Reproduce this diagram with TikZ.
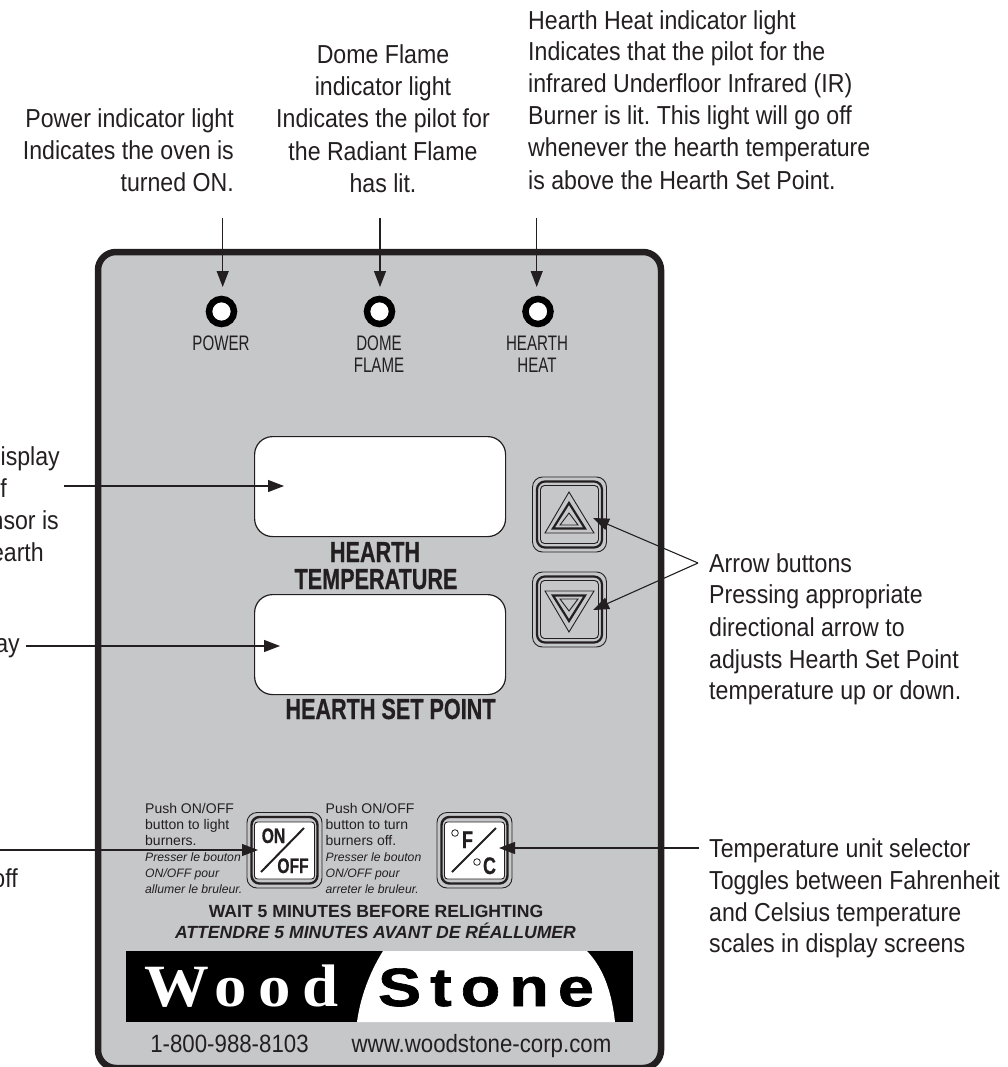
\documentclass[tikz,border=0pt]{standalone}
\usepackage{fontspec}
\setmainfont{Liberation Sans}
\newfontfamily\condf[FakeStretch=0.89]{Liberation Sans}
\newfontfamily\narrowf[FakeStretch=0.72]{Liberation Sans}
\newfontfamily\headf[FakeStretch=0.745,FakeBold=0.6]{Liberation Sans Bold}
\newfontfamily\logoserif[FakeStretch=1.08]{Liberation Serif Bold}
\newfontfamily\logosans[FakeStretch=1.2,FakeBold=1.2]{Liberation Sans Bold}
\usetikzlibrary{arrows.meta}
\definecolor{panel}{HTML}{C6C7C9}
\definecolor{ink}{HTML}{231F20}
\frenchspacing
\tikzset{
  captxt/.style={anchor=base west,inner sep=0,font=\condf\fontsize{26}{26}\selectfont,text=ink},
  capr/.style={captxt,anchor=base east},
  capc/.style={captxt,anchor=base},
  lab/.style={anchor=base,inner sep=0,font=\narrowf\fontsize{21}{21}\selectfont,text=ink},
  head/.style={anchor=base,inner sep=0,font=\headf\fontsize{29}{29}\selectfont,text=ink},
  tinyt/.style={anchor=base west,inner sep=0,font=\fontsize{14}{14}\selectfont,text=ink},
  tinyi/.style={anchor=base west,inner sep=0,font=\itshape\fontsize{12.2}{12.2}\selectfont,text=ink},
  warn/.style={anchor=base,inner sep=0,font=\bfseries\fontsize{17.6}{17.6}\selectfont,text=ink},
  arr/.style={draw=ink,line width=1.1pt,-{Triangle[length=16pt,width=12pt]}},
  btntxt/.style={anchor=base,inner sep=0,font=\headf\fontsize{21}{21}\selectfont,text=ink},
  btntxtb/.style={btntxt,font=\headf\fontsize{24}{24}\selectfont},
}
\begin{document}
\begin{tikzpicture}[x=1pt,y=-1pt]
\useasboundingbox (0,0) rectangle (1008,1067);
\begin{scope}
\clip (0,0) rectangle (1008,1067);
\draw[draw=ink,fill=panel,line width=6.5pt,rounded corners=18pt] (98,252) rectangle (661,1068);

% displays
\node[draw=ink,fill=white,line width=1.2pt,rounded corners=18pt,minimum width=251pt,minimum height=100pt,inner sep=0,anchor=north west] (tempbox) at (254,436) {};
\node[draw=ink,fill=white,line width=1.2pt,rounded corners=18pt,minimum width=251pt,minimum height=100pt,inner sep=0,anchor=north west] (setbox) at (254,594) {};
\node[head] at (375,562) {HEARTH};
\node[head] at (376,589) {TEMPERATURE};
\node[head] at (390.5,719) {HEARTH SET POINT};

% LEDs
\foreach \n/\x in {power/221.5,dome/379.5,heat/538}{
  \node[circle,draw=black,fill=white,line width=6.5pt,minimum size=25pt,inner sep=0] (\n) at (\x,311.5) {};
}
\node[lab] at (221,350) {POWER};
\node[lab] at (379,350) {DOME};
\node[lab] at (379,372) {FLAME};
\node[lab] at (537,350) {HEARTH};
\node[lab] at (537,372) {HEAT};

% arrow buttons
\foreach \n/\cy in {upbtn/514.5,downbtn/609.5}{
  \draw[ink,line width=.9pt,rounded corners=10pt] (532.5,\cy-37.5) rectangle (606.5,\cy+37.5);
  \draw[ink,line width=2.2pt,rounded corners=8pt] (537,\cy-33) rectangle (602,\cy+33);
  \node[draw=ink,line width=.9pt,rounded corners=4pt,minimum size=58pt,inner sep=0] (\n) at (569.5,\cy) {};
}
\draw[ink,line width=.9pt,line join=miter] (569,492) -- (594,533) -- (545,533) -- cycle;
\draw[ink,line width=2.2pt,line join=miter] (569,503) -- (585,528.5) -- (553,528.5) -- cycle;
\draw[ink,line width=.9pt,line join=miter] (569,513) -- (578,525) -- (560,525) -- cycle;
\draw[ink,line width=.9pt,line join=miter] (569,632) -- (594,591) -- (545,591) -- cycle;
\draw[ink,line width=2.2pt,line join=miter] (569,621) -- (585,595.5) -- (553,595.5) -- cycle;
\draw[ink,line width=.9pt,line join=miter] (569,611) -- (578,599) -- (560,599) -- cycle;

% ON/OFF and F/C buttons
\foreach \n/\cx in {onoff/284.5,fc/474.5}{
  \draw[ink,line width=.9pt,rounded corners=10pt] (\cx-37.5,812.5) rectangle (\cx+37.5,888);
  \draw[ink,line width=2.4pt,rounded corners=8pt] (\cx-33,817) rectangle (\cx+33,883.5);
  \node[draw=ink,fill=white,line width=.9pt,rounded corners=3pt,minimum width=60pt,minimum height=57pt,inner sep=0] (\n) at (\cx,850.5) {};
}
\node[btntxt] at (273.5,843) {ON};
\node[btntxt] at (293,873) {OFF};
\draw[ink,line width=2pt] (261,872) -- (304,828);
\node[btntxtb] at (467.5,848) {F};
\node[btntxtb] at (489.5,874) {C};
\draw[ink,line width=.8pt] (455,833) circle (3.3pt);
\draw[ink,line width=.8pt] (477,862) circle (3.3pt);
\draw[ink,line width=2pt] (452,872) -- (496,828);

% small texts
\node[tinyt] at (145,813.5) {Push ON/OFF};
\node[tinyt] at (145,829.5) {button to light};
\node[tinyt] at (145,845.5) {burners.};
\node[tinyi] at (145,861.5) {Presser le bouton};
\node[tinyi] at (145,877.5) {ON/OFF pour};
\node[tinyi] at (145,893.5) {allumer le bruleur.};
\node[tinyt] at (325.5,813.5) {Push ON/OFF};
\node[tinyt] at (325.5,829.5) {button to turn};
\node[tinyt] at (325.5,845.5) {burners off.};
\node[tinyi] at (325.5,861.5) {Presser le bouton};
\node[tinyi] at (325.5,877.5) {ON/OFF pour};
\node[tinyi] at (325.5,893.5) {arreter le bruleur.};
\node[warn] at (376,917) {WAIT 5 MINUTES BEFORE RELIGHTING};
\node[warn,font=\bfseries\itshape\fontsize{17.6}{17.6}\selectfont] at (375.5,938) {ATTENDRE 5 MINUTES AVANT DE RÉALLUMER};

% logo
\fill[black] (126,951) rectangle (633,1022);
\fill[white] (383,951) .. controls (368,975) and (360,1000) .. (357,1022) -- (615,1022) .. controls (612,995) and (605,970) .. (587,951) -- cycle;
\node[anchor=base,inner sep=0,text=white,font=\logoserif\fontsize{60}{60}\selectfont] at (241.5,1006) {W\kern6pt o\kern11pt o\kern12pt d};
\node[anchor=base,inner sep=0,text=black,font=\logosans\fontsize{54}{54}\selectfont] at (486,1006) {S\kern9pt t\kern9pt o\kern9pt n\kern9pt e};
\node[anchor=base,inner sep=0,text=ink,font=\condf\fontsize{25}{25}\selectfont] at (229.5,1052) {1-800-988-8103};
\node[anchor=base,inner sep=0,text=ink,font=\condf\fontsize{25}{25}\selectfont] at (481.5,1052) {www.woodstone-corp.com};

% top captions
\node[capr] at (234,127.5) {Power indicator light};
\node[capr] at (234,160) {Indicates the oven is};
\node[capr] at (234,192) {turned ON.};
\node[capc] at (383,64) {Dome Flame};
\node[capc] at (383,96) {indicator light};
\node[capc] at (383,128) {Indicates the pilot for};
\node[capc] at (383,160.5) {the Radiant Flame};
\node[capc] at (383,192.5) {has lit.};
\node[captxt] at (528,30) {Hearth Heat indicator light};
\node[captxt] at (528,61) {Indicates that the pilot for the};
\node[captxt] at (528,93) {infrared Underfloor Infrared (IR)};
\node[captxt] at (528,125) {Burner is lit. This light will go off};
\node[captxt] at (528,157) {whenever the hearth temperature};
\node[captxt] at (528,189.5) {is above the Hearth Set Point.};

% left clipped captions
\node[capr] at (60,465) {isplay};
\node[capr] at (7,497) {of};
\node[capr] at (59,529) {nsor is};
\node[capr] at (44,561) {earth};
\node[capr] at (20,652) {ay};
\node[capr] at (18,887) {off};

% right captions
\node[captxt] at (709,572) {Arrow buttons};
\node[captxt] at (709,603.5) {Pressing appropriate};
\node[captxt] at (709,636) {directional arrow to};
\node[captxt] at (709,668) {adjusts Hearth Set Point};
\node[captxt] at (709,699.5) {temperature up or down.};
\node[captxt] at (709,857) {Temperature unit selector};
\node[captxt] at (709,889) {Toggles between Fahrenheit};
\node[captxt] at (709,921) {and Celsius temperature};
\node[captxt] at (709,952) {scales in display screens};

% connectors
\coordinate (c1) at (222.7,218); \coordinate (t1) at (222.7,287);
\coordinate (c2) at (380,218); \coordinate (t2) at (380,287);
\coordinate (c3) at (536.7,218); \coordinate (t3) at (536.7,287);
\draw[arr] (c1) -- (t1);
\draw[arr] (c2) -- (t2);
\draw[arr] (c3) -- (t3);
\coordinate (c4) at (64,486); \coordinate (t4) at (284,486);
\coordinate (c5) at (26,646); \coordinate (t5) at (280,646);
\draw[arr] (c4) -- (t4);
\draw[arr] (c5) -- (t5);
\coordinate (c6) at (0,850); \coordinate (t6) at (258,850);
\draw[arr] (c6) -- (t6);
\coordinate (c7) at (699,848); \coordinate (t7) at (499,848);
\draw[arr] (c7) -- (t7);
\coordinate (c8) at (698,563); \coordinate (t8) at (593,518); \coordinate (t9) at (593,610);
\draw[arr] (c8) -- (t8);
\draw[arr] (c8) -- (t9);
\end{scope}
\end{tikzpicture}
\end{document}
